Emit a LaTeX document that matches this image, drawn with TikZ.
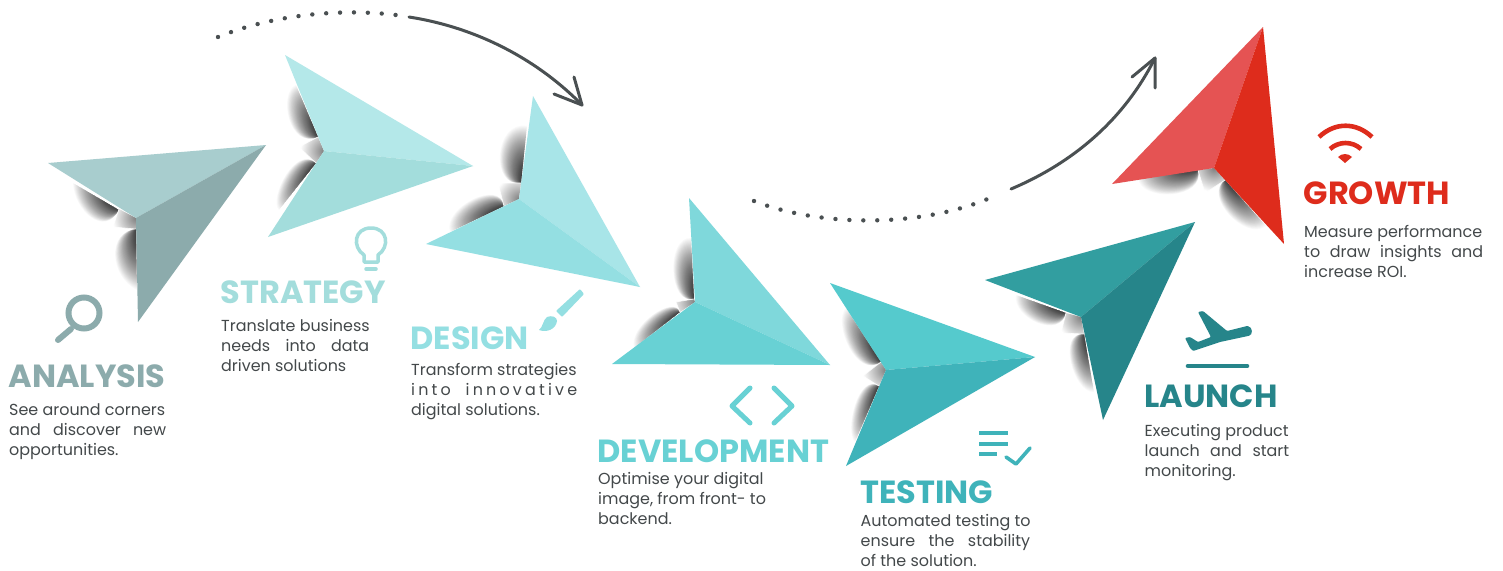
\documentclass[tikz,border=0pt]{standalone}
\usepackage{fontspec}
\usetikzlibrary{calc}
\setmainfont{Poppins}
\definecolor{ink}{HTML}{43484A}
\definecolor{arrowink}{HTML}{4A5052}
\definecolor{anaA}{HTML}{A8CDCE}\definecolor{anaB}{HTML}{8CABAC}
\definecolor{strA}{HTML}{B4E8E9}\definecolor{strB}{HTML}{A3DDDC}
\definecolor{desA}{HTML}{A8E5E8}\definecolor{desB}{HTML}{94DFE2}
\definecolor{devA}{HTML}{7FD8DB}\definecolor{devB}{HTML}{68D1D4}
\definecolor{tesA}{HTML}{55CACD}\definecolor{tesB}{HTML}{3FB3BA}
\definecolor{lauA}{HTML}{329EA0}\definecolor{lauB}{HTML}{26858A}
\definecolor{groA}{HTML}{E55353}\definecolor{groB}{HTML}{DE2C1C}
\tikzset{
  heading/.style={anchor=base west,inner sep=0pt,font=\fontsize{32}{32}\selectfont\bfseries},
  bodytext/.style={anchor=base west,inner sep=0pt,text=ink,align=left,font=\fontsize{15.95}{19.8}\selectfont},
  curve/.style={draw=arrowink,line width=3pt,line cap=round,line join=round},
  dots/.style={draw=arrowink,line width=4.4pt,line cap=round,dash pattern=on 0pt off 13.9pt},
  iconline/.style={line cap=round,line join=round}
}
% one soft shadow, built from nested lenses: (1) edge start, (2) edge end, (3),(4) outer controls
\newcommand{\softshadow}[4]{%
  \foreach \s in {0.02,0.04,...,1.001}{%
    \pgfmathsetmacro{\b}{pow(\s,1.25)}%
    \pgfmathsetmacro{\r}{0.2+0.8*pow(\s,1.1)}%
    \fill[black,opacity=0.024]
      #1 .. controls ($#1!\b!#3$) and ($#1!\r!#2 + \b*#4 - \b*#2$) .. ($#1!\r!#2$) -- cycle;
  }%
}
% light patch in the notch: (1) notch, (2) edge point, (3) outer point, (4) edge point
\newcommand{\notchpatch}[4]{%
  \begin{scope}
    \clip #1 -- #2 -- #3 -- #4 -- cycle;
    \fill[white] #1 circle (40pt);
    \shade[inner color=black!50,outer color=white] #1 circle (24pt);
  \end{scope}
  \draw[white,line width=0.6pt,opacity=0.8] #2 -- #3 -- #4;
}
\newcommand{\jline}[2]{\makebox[#1][s]{#2}}
\begin{document}
\begin{tikzpicture}[x=1pt,y=-1pt]
\useasboundingbox (0,0) rectangle (1503,570);
\fill[white] (0,0) rectangle (1503,570);

% --- shadows and notch patches
\softshadow{(119,210)}{(73,183)}{(104,238)}{(74,210)}
\softshadow{(136,229)}{(137,290)}{(106,232)}{(110,277)}
\notchpatch{(136,218)}{(119,209)}{(113,227)}{(136,229)}

\softshadow{(318,137)}{(296,85)}{(288,150)}{(278,92)}
\softshadow{(316,163)}{(279,210)}{(295,144)}{(268,200)}
\notchpatch{(324,151)}{(318,137)}{(299,147)}{(316,163)}

\softshadow{(521,183)}{(527,126)}{(490,188)}{(494,120)}
\softshadow{(504,206)}{(450,232)}{(500,178)}{(442,208)}
\notchpatch{(519,199)}{(521,183)}{(498,183)}{(504,206)}

\softshadow{(694,299)}{(691,238)}{(668,306)}{(666,236)}
\softshadow{(680,312)}{(634,348)}{(674,294)}{(628,326)}
\notchpatch{(695,302)}{(694,299)}{(676,302)}{(680,312)}

\softshadow{(881,362)}{(846,308)}{(856,380)}{(832,322)}
\softshadow{(879,386)}{(855,442)}{(858,372)}{(844,432)}
\notchpatch{(886,370)}{(881,362)}{(863,376)}{(879,386)}

\softshadow{(1066,313)}{(1016,295)}{(1060,340)}{(1012,318)}
\softshadow{(1084,334)}{(1094,392)}{(1056,332)}{(1074,394)}
\notchpatch{(1081,317)}{(1066,313)}{(1061,333)}{(1084,334)}

\softshadow{(1198,170)}{(1138,178)}{(1206,200)}{(1140,202)}
\softshadow{(1225,180)}{(1266,226)}{(1202,196)}{(1246,242)}
\notchpatch{(1214,168)}{(1198,170)}{(1205,193)}{(1225,180)}

% --- paper planes
\coordinate (a1) at (48,163); \coordinate (a2) at (266,145); \coordinate (a3) at (136,218); \coordinate (a4) at (138,322);
\fill[anaA] (a1)--(a2)--(a3)--cycle; \fill[anaB] (a2)--(a3)--(a4)--cycle;
\coordinate (s1) at (285,55); \coordinate (s2) at (473,166); \coordinate (s3) at (324,151); \coordinate (s4) at (268,237);
\fill[strA] (s1)--(s2)--(s3)--cycle; \fill[strB] (s2)--(s3)--(s4)--cycle;
\coordinate (d1) at (533,96); \coordinate (d2) at (640,287); \coordinate (d3) at (519,199); \coordinate (d4) at (426,244);
\fill[desA] (d1)--(d2)--(d3)--cycle; \fill[desB] (d2)--(d3)--(d4)--cycle;
\coordinate (v1) at (689,198); \coordinate (v2) at (830,365); \coordinate (v3) at (695,302); \coordinate (v4) at (612,364);
\fill[devA] (v1)--(v2)--(v3)--cycle; \fill[devB] (v2)--(v3)--(v4)--cycle;
\coordinate (t1) at (830,283); \coordinate (t2) at (1035,357); \coordinate (t3) at (886,370); \coordinate (t4) at (846,466);
\fill[tesA] (t1)--(t2)--(t3)--cycle; \fill[tesB] (t2)--(t3)--(t4)--cycle;
\coordinate (l1) at (985,280); \coordinate (l2) at (1195,222); \coordinate (l3) at (1081,317); \coordinate (l4) at (1103,420);
\fill[lauA] (l1)--(l2)--(l3)--cycle; \fill[lauB] (l2)--(l3)--(l4)--cycle;
\coordinate (g1) at (1112,184); \coordinate (g2) at (1263,27); \coordinate (g3) at (1214,168); \coordinate (g4) at (1284,244);
\fill[groA] (g1)--(g2)--(g3)--cycle; \fill[groB] (g2)--(g3)--(g4)--cycle;

% --- arrows
\coordinate (dotA) at (218,37); \coordinate (dotB) at (396,15);
\coordinate (arcA) at (409,17); \coordinate (arcB) at (582,105);
\coordinate (barbA1) at (574,77); \coordinate (barbA2) at (554,94);
\draw[dots] (dotA) .. controls (272,15) and (340,8) .. (dotB);
\draw[curve] (arcA) .. controls (480,28) and (540,62) .. (arcB);
\draw[curve] (barbA1) -- (arcB) -- (barbA2);

\coordinate (dotC) at (754,201); \coordinate (dotD) at (999,194);
\coordinate (arcC) at (1011,189); \coordinate (arcD) at (1155,58);
\coordinate (barbB1) at (1132,77); \coordinate (barbB2) at (1155,88);
\draw[dots,dash pattern=on 0pt off 13.95pt] (dotC) .. controls (820,227) and (925,229) .. (dotD);
\draw[curve] (arcC) .. controls (1075,162) and (1125,118) .. (arcD);
\draw[curve] (barbB1) -- (arcD) -- (barbB2);

% --- icons
% magnifier
\draw[anaB,line width=6pt] (84,313) circle (15.5pt);
\draw[anaB,line width=6pt,line cap=round] (71,329) -- (58,340);
% bulb
\draw[strB,line width=3.5pt,iconline] (364,262) -- (364,255) .. controls (352,247) and (354,228) .. (371,228)
   .. controls (388,228) and (390,247) .. (378,255) -- (378,262) -- cycle;
\draw[strB,line width=3.5pt,line cap=round] (366,269) -- (376,269);
% brush
\fill[desB,rounded corners=1pt] (580,289) -- (584,294) -- (562,317) -- (556,311) -- cycle;
\fill[desB] (547,317) .. controls (552,315) and (557,317) .. (557,321) .. controls (556,329) and (547,333) .. (539,330)
   .. controls (543,327) and (543,320) .. (547,317) -- cycle;
% code brackets
\draw[devB,line width=5pt,iconline] (750,388) -- (732,406) -- (750,423);
\draw[devB,line width=5pt,iconline] (774,388) -- (792,406) -- (774,423);
% checklist
\draw[tesB,line width=3.4pt] (979,433) -- (1008,433) (979,444) -- (1008,444) (979,454) -- (997,454);
\draw[tesB,line width=3.6pt,iconline] (1006,457) -- (1016,464) -- (1030,448);
% plane
\fill[lauB,rounded corners=1pt] (1198,312) -- (1203,311) -- (1227,331) -- (1247,326) .. controls (1253,327) and (1253,335) .. (1248,336)
   -- (1220,342) -- (1193,351) -- (1190,348) -- (1185,338) -- (1190,337) -- (1198,342) -- (1211,337) -- cycle;
\draw[lauB,line width=4.6pt,line cap=round] (1188,366) -- (1247,366);
% wifi
\draw[groB,line width=4.6pt,line join=round] (1319,137) .. controls (1335,122) and (1356,122) .. (1372,137);
\draw[groB,line width=4.6pt] (1330,149) .. controls (1339,141) and (1352,141) .. (1361,149);
\fill[groB] (1338,157) .. controls (1342,153) and (1348,153) .. (1352,157) -- (1345,163) -- cycle;

% --- texts (base of a body node is its last line)
\node[heading,text=anaB] (ana) at (8.5,387) {ANALYSIS};
\node[bodytext] (anat) at (9,455) {See around corners\\\jline{157pt}{and discover new}\\opportunities.};
\node[heading,text=strB] (str) at (220.5,303) {STRATEGY};
\node[bodytext] (strt) at (221,371.5) {Translate business\\\jline{148pt}{needs into data}\\driven solutions};
\node[heading,text=desB] (des) at (410.5,349) {DESIGN};
\node[bodytext] (dest) at (411,415.5) {Transform strategies\\{\addfontfeature{LetterSpace=20}\jline{166pt}{into innovative}}\\digital solutions.};
\node[heading,text=devB] (dev) at (597.5,462) {DEVELOPMENT};
\node[bodytext] (devt) at (598,524) {Optimise your digital\\image, from front- to\\backend.};
\node[heading,text=tesB] (tes) at (860,503.5) {TESTING};
\node[bodytext] (test) at (860.5,566.5) {Automated testing to\\\jline{169.5pt}{ensure the stability}\\of the solution.};
\node[heading,text=lauB] (lau) at (1144,407.5) {LAUNCH};
\node[bodytext] (laut) at (1144.5,476.5) {Executing product\\\jline{144.5pt}{launch and start}\\monitoring.};
\node[heading,text=groB] (gro) at (1303.5,204.5) {GROWTH};
\node[bodytext] (grot) at (1304,277.5) {Measure performance\\\jline{179pt}{to draw insights and}\\increase ROI.};
\end{tikzpicture}
\end{document}
